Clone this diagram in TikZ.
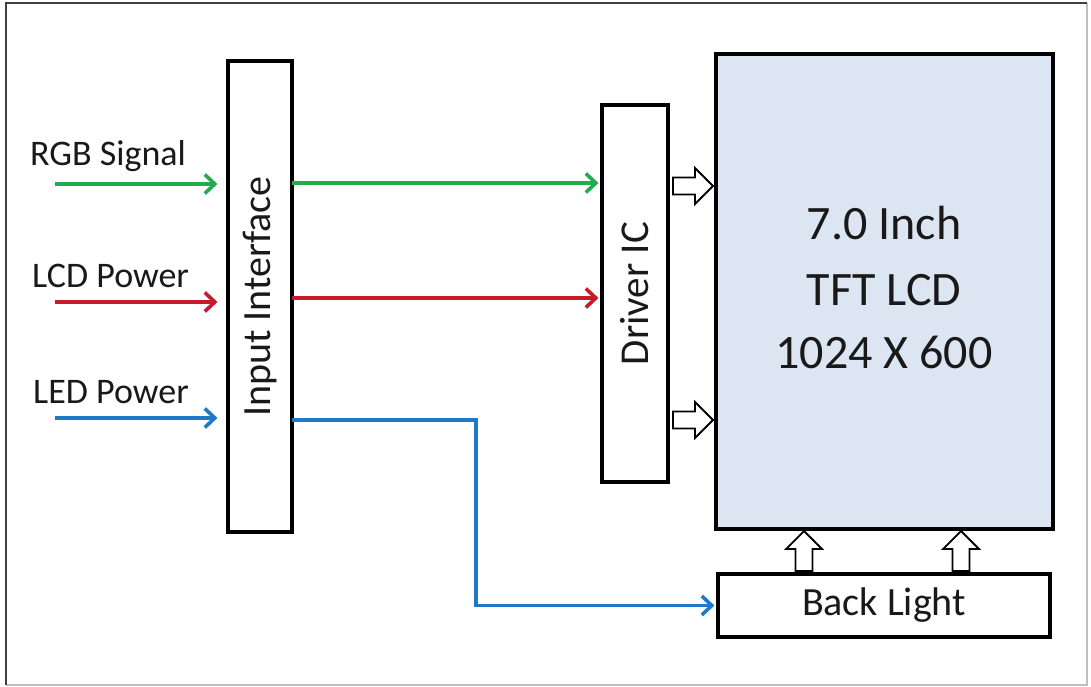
\documentclass[tikz,border=0pt]{standalone}
\usepackage{fontspec}
\setmainfont{Carlito}
\usetikzlibrary{arrows.meta}
\definecolor{sigG}{RGB}{34,172,78}
\definecolor{sigR}{RGB}{196,28,40}
\definecolor{sigB}{RGB}{30,122,200}
\definecolor{lcdfill}{RGB}{220,230,242}
\definecolor{txt}{RGB}{25,25,25}
\tikzset{
  box/.style={draw=black, line width=3.2pt, fill=white, inner sep=0pt, text=txt},
  sig/.style={line width=3.6pt, -{Straight Barb[length=10pt,width=19pt,line width=3.6pt]}},
  lbl/.style={anchor=base west, inner sep=0pt, text=txt, font=\fontsize{36}{40}\selectfont},
  lcdtxt/.style={anchor=base, inner sep=0pt, text=txt, font=\fontsize{48}{56}\selectfont},
  blockarrow/.pic={\draw[line width=1.8pt, fill=white, line join=miter]
     (-40,-8.5)--(-18,-8.5)--(-18,-18)--(0,0)--(-18,18)--(-18,8.5)--(-40,8.5)--cycle;}
}
\begin{document}
\begin{tikzpicture}[x=1pt,y=-1pt]
\useasboundingbox (0,0) rectangle (1091,686);
% outer frame
\draw[line width=1.5pt, black!25] (1087,3) -- (1087,685) -- (6,685);
\draw[line width=2pt, black!75] (6,685) -- (6,3) -- (1087,3);

% blocks
\node[box, minimum width=471pt, minimum height=64pt, rotate=90,
      font=\fontsize{40}{44}\selectfont] (ii) at (260,296.5) {Input Interface};
\node[box, minimum width=377pt, minimum height=66pt, rotate=90,
      font=\fontsize{41}{45}\selectfont] (drv) at (635,293.5) {Driver IC};
\node[box, fill=lcdfill, minimum width=337pt, minimum height=475pt] (lcd) at (884.5,291.5) {};
\node[box, minimum width=332pt, minimum height=63pt,
      font=\fontsize{40}{44}\selectfont] (bl) at (884,605.5) {Back Light};

% LCD text
\node[lcdtxt] (t1) at (884,239) {7.0 Inch};
\node[lcdtxt] (t2) at (884,305) {TFT LCD};
\node[lcdtxt] (t3) at (884,368) {1024 X 600};

% input labels
\node[lbl] (lrgb) at (30,165) {RGB Signal};
\node[lbl] (llcd) at (32,287) {LCD Power};
\node[lbl] (lled) at (33,403) {LED Power};

% input arrows
\coordinate (sg) at (55,184);
\coordinate (sr) at (55,302);
\coordinate (sb) at (55,418);
\draw[sig, sigG, shorten >=9pt] (sg) -- (sg -| ii.north);
\draw[sig, sigR, shorten >=9pt] (sr) -- (sr -| ii.north);
\draw[sig, sigB, shorten >=9pt] (sb) -- (sb -| ii.north);

% interface to driver
\coordinate (og) at (292,183);
\coordinate (or) at (292,298);
\coordinate (ob) at (292,420);
\draw[sig, sigG, shorten >=2pt] (og) -- (og -| drv.north);
\draw[sig, sigR, shorten >=2pt] (or) -- (or -| drv.north);
\coordinate (bend1) at (476,420);
\coordinate (bend2) at (476,605.5);
\draw[sig, sigB, shorten >=2pt] (ob) -- (bend1) -- (bend2) -- (bend2 -| bl.west);

% block arrows
\pic (ra1) at (713,186) {blockarrow};
\pic (ra2) at (713,420) {blockarrow};
\pic[rotate=90] (ua1) at (804,531) {blockarrow};
\pic[rotate=90] (ua2) at (961,531) {blockarrow};
\end{tikzpicture}
\end{document}
